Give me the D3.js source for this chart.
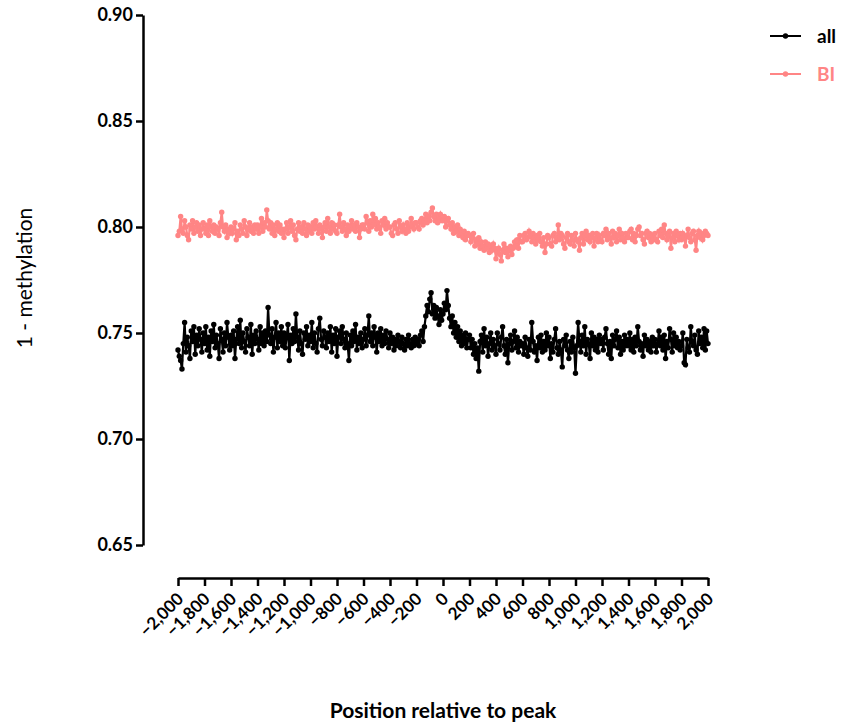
<!DOCTYPE html>
<html>
<head>
<meta charset="utf-8">
<script src="https://cdn.jsdelivr.net/npm/d3@7"></script>
<style>
  body { margin: 0; background: #fff; }
  svg text { font-family: Lato, "Open Sans", sans-serif; }
</style>
</head>
<body>
<svg id="chart" width="842" height="723"></svg>
<script>
var width = 842;
var height = 723;

// positions relative to peak, every 10 bp
var positions = d3.range(-2000, 2001, 10);
var xTicks = d3.range(-2000, 2001, 200);
var yTicks = [0.65, 0.70, 0.75, 0.80, 0.85, 0.90];

var seriesNames = ["all", "BI"];
var seriesColors = ["#000000", "#ff8585"];

var allValues = [
  0.742, 0.739, 0.737, 0.733, 0.745, 0.755, 0.741, 0.748, 0.744, 0.738, 0.751, 0.746, 0.753, 0.740, 0.749, 0.744, 0.752, 0.747, 0.741, 0.750,
  0.745, 0.753, 0.742, 0.748, 0.739, 0.751, 0.746, 0.754, 0.743, 0.749, 0.745, 0.738, 0.752, 0.747, 0.741, 0.750, 0.744, 0.755, 0.748, 0.742,
  0.749, 0.744, 0.751, 0.738, 0.747, 0.753, 0.745, 0.756, 0.743, 0.750, 0.746, 0.741, 0.752, 0.748, 0.744, 0.754, 0.740, 0.749, 0.745, 0.751,
  0.747, 0.742, 0.753, 0.745, 0.750, 0.744, 0.751, 0.746, 0.762, 0.749, 0.745, 0.752, 0.741, 0.748, 0.755, 0.743, 0.750, 0.746, 0.753, 0.744,
  0.750, 0.743, 0.748, 0.754, 0.737, 0.749, 0.745, 0.752, 0.746, 0.759, 0.748, 0.742, 0.751, 0.745, 0.740, 0.750, 0.747, 0.753, 0.744, 0.749,
  0.746, 0.755, 0.743, 0.750, 0.745, 0.741, 0.752, 0.757, 0.747, 0.744, 0.751, 0.748, 0.743, 0.750, 0.746, 0.753, 0.741, 0.749, 0.745, 0.752,
  0.739, 0.748, 0.751, 0.745, 0.753, 0.747, 0.743, 0.750, 0.745, 0.737, 0.749, 0.744, 0.751, 0.746, 0.754, 0.742, 0.748, 0.745, 0.750, 0.743,
  0.747, 0.752, 0.744, 0.749, 0.758, 0.746, 0.750, 0.744, 0.753, 0.748, 0.741, 0.750, 0.746, 0.752, 0.744, 0.749, 0.745, 0.751, 0.747, 0.743,
  0.750, 0.745, 0.748, 0.742, 0.747, 0.744, 0.749, 0.746, 0.743, 0.748, 0.745, 0.742, 0.747, 0.744, 0.749, 0.745, 0.743, 0.747, 0.744, 0.748,
  0.745, 0.747, 0.744, 0.749, 0.751, 0.746, 0.753, 0.758, 0.763, 0.760, 0.766, 0.769, 0.759, 0.763, 0.757, 0.762, 0.758, 0.754, 0.761, 0.756,
  0.759, 0.764, 0.761, 0.770, 0.763, 0.757, 0.753, 0.758, 0.750, 0.755, 0.748, 0.753, 0.746, 0.751, 0.744, 0.749, 0.745, 0.750, 0.743, 0.747,
  0.749, 0.743, 0.747, 0.740, 0.745, 0.738, 0.743, 0.732, 0.746, 0.749, 0.741, 0.752, 0.744, 0.748, 0.739, 0.745, 0.750, 0.742, 0.747, 0.744,
  0.740, 0.750, 0.745, 0.742, 0.748, 0.753, 0.744, 0.740, 0.747, 0.736, 0.745, 0.749, 0.742, 0.746, 0.751, 0.743, 0.748, 0.741, 0.746, 0.744,
  0.745, 0.740, 0.748, 0.743, 0.739, 0.747, 0.742, 0.755, 0.746, 0.741, 0.744, 0.737, 0.748, 0.743, 0.749, 0.741, 0.746, 0.742, 0.750, 0.744,
  0.748, 0.738, 0.745, 0.741, 0.747, 0.752, 0.743, 0.740, 0.746, 0.742, 0.734, 0.747, 0.744, 0.749, 0.742, 0.738, 0.746, 0.741, 0.748, 0.743,
  0.731, 0.744, 0.755, 0.746, 0.741, 0.749, 0.744, 0.753, 0.740, 0.747, 0.745, 0.738, 0.750, 0.744, 0.748, 0.742, 0.747, 0.741, 0.749, 0.745,
  0.747, 0.742, 0.748, 0.752, 0.745, 0.740, 0.746, 0.738, 0.749, 0.744, 0.747, 0.751, 0.743, 0.748, 0.740, 0.746, 0.742, 0.749, 0.744, 0.747,
  0.744, 0.750, 0.742, 0.747, 0.741, 0.748, 0.744, 0.753, 0.746, 0.742, 0.745, 0.739, 0.749, 0.744, 0.747, 0.742, 0.746, 0.741, 0.748, 0.744,
  0.747, 0.741, 0.745, 0.751, 0.744, 0.748, 0.742, 0.749, 0.738, 0.746, 0.743, 0.752, 0.747, 0.741, 0.750, 0.744, 0.748, 0.743, 0.746, 0.742,
  0.744, 0.750, 0.736, 0.735, 0.747, 0.743, 0.741, 0.753, 0.746, 0.744, 0.749, 0.742, 0.740, 0.751, 0.745, 0.748, 0.743, 0.752, 0.742, 0.751,
  0.745
];

var biValues = [
  0.796, 0.798, 0.805, 0.799, 0.797, 0.803, 0.800, 0.796, 0.794, 0.801, 0.799, 0.803, 0.797, 0.800, 0.802, 0.798, 0.801, 0.796, 0.799, 0.802,
  0.799, 0.797, 0.801, 0.796, 0.803, 0.800, 0.798, 0.801, 0.797, 0.800, 0.799, 0.796, 0.802, 0.807, 0.800, 0.798, 0.801, 0.795, 0.799, 0.797,
  0.800, 0.797, 0.799, 0.802, 0.794, 0.798, 0.796, 0.801, 0.799, 0.797, 0.803, 0.800, 0.796, 0.799, 0.802, 0.798, 0.800, 0.797, 0.801, 0.799,
  0.801, 0.797, 0.800, 0.804, 0.798, 0.802, 0.800, 0.808, 0.803, 0.799, 0.802, 0.797, 0.801, 0.796, 0.799, 0.802, 0.798, 0.801, 0.797, 0.799,
  0.795, 0.799, 0.802, 0.797, 0.800, 0.803, 0.798, 0.801, 0.796, 0.794, 0.799, 0.802, 0.798, 0.800, 0.797, 0.802, 0.799, 0.796, 0.801, 0.798,
  0.800, 0.797, 0.802, 0.799, 0.803, 0.800, 0.797, 0.801, 0.799, 0.795, 0.800, 0.802, 0.798, 0.804, 0.800, 0.797, 0.802, 0.799, 0.801, 0.798,
  0.797, 0.801, 0.806, 0.800, 0.798, 0.802, 0.799, 0.796, 0.801, 0.798, 0.800, 0.803, 0.799, 0.801, 0.798, 0.802, 0.800, 0.795, 0.799, 0.801,
  0.801, 0.799, 0.805, 0.802, 0.798, 0.803, 0.800, 0.806, 0.801, 0.804, 0.799, 0.802, 0.800, 0.797, 0.803, 0.801, 0.804, 0.799, 0.802, 0.800,
  0.800, 0.797, 0.796, 0.801, 0.802, 0.799, 0.797, 0.803, 0.800, 0.798, 0.801, 0.799, 0.797, 0.802, 0.798, 0.800, 0.804, 0.801, 0.799, 0.802,
  0.802, 0.800, 0.799, 0.803, 0.804, 0.801, 0.803, 0.806, 0.802, 0.805, 0.803, 0.807, 0.809, 0.805, 0.803, 0.806, 0.802, 0.804, 0.806, 0.803,
  0.803, 0.805, 0.800, 0.803, 0.804, 0.801, 0.799, 0.802, 0.797, 0.800, 0.798, 0.801, 0.796, 0.799, 0.797, 0.795, 0.798, 0.794, 0.796, 0.797,
  0.796, 0.793, 0.795, 0.797, 0.791, 0.794, 0.792, 0.795, 0.790, 0.793, 0.791, 0.789, 0.793, 0.790, 0.792, 0.788, 0.791, 0.789, 0.792, 0.790,
  0.785, 0.788, 0.790, 0.787, 0.784, 0.789, 0.792, 0.788, 0.790, 0.786, 0.789, 0.791, 0.787, 0.790, 0.793, 0.791, 0.794, 0.790, 0.796, 0.793,
  0.793, 0.796, 0.797, 0.794, 0.795, 0.798, 0.796, 0.793, 0.797, 0.795, 0.792, 0.796, 0.794, 0.797, 0.793, 0.791, 0.795, 0.788, 0.792, 0.796,
  0.795, 0.792, 0.791, 0.796, 0.797, 0.793, 0.795, 0.801, 0.794, 0.797, 0.796, 0.792, 0.790, 0.795, 0.797, 0.793, 0.792, 0.796, 0.794, 0.791,
  0.797, 0.794, 0.793, 0.789, 0.795, 0.797, 0.792, 0.796, 0.798, 0.794, 0.796, 0.793, 0.795, 0.797, 0.791, 0.795, 0.797, 0.793, 0.796, 0.794,
  0.793, 0.797, 0.796, 0.799, 0.794, 0.797, 0.795, 0.792, 0.798, 0.795, 0.797, 0.793, 0.796, 0.799, 0.794, 0.797, 0.795, 0.793, 0.797, 0.795,
  0.795, 0.798, 0.799, 0.794, 0.797, 0.793, 0.796, 0.799, 0.800, 0.796, 0.797, 0.794, 0.792, 0.797, 0.798, 0.795, 0.797, 0.793, 0.796, 0.794,
  0.797, 0.794, 0.793, 0.798, 0.796, 0.799, 0.795, 0.801, 0.797, 0.794, 0.796, 0.798, 0.790, 0.795, 0.797, 0.793, 0.798, 0.796, 0.794, 0.797,
  0.794, 0.797, 0.795, 0.791, 0.796, 0.799, 0.795, 0.793, 0.797, 0.798, 0.794, 0.789, 0.796, 0.798, 0.795, 0.797, 0.794, 0.796, 0.798, 0.797,
  0.796
];

var svg = d3.select("#chart");

var x = d3.scaleLinear().domain([-2000, 2000]).range([178, 708]);
var y = d3.scaleLinear().domain([0.65, 0.90]).range([545, 15]);

var fmt = d3.format(",");

// y axis
var yAxis = svg.append("g")
    .attr("transform", "translate(143,0)")
    .call(d3.axisLeft(y).tickValues(yTicks).tickFormat(d3.format(".2f")).tickSize(7).tickSizeOuter(0));
yAxis.select(".domain").attr("stroke-width", 2.5);
yAxis.selectAll(".tick line").attr("stroke-width", 2.5);
yAxis.selectAll(".tick text")
    .attr("x", -10)
    .style("font-size", "18px")
    .style("font-weight", "bold")
    .attr("fill", "#000");

// x axis
var xAxis = svg.append("g")
    .attr("transform", "translate(0,578)")
    .call(d3.axisBottom(x).tickValues(xTicks).tickFormat(fmt).tickSize(8).tickSizeOuter(0));
xAxis.select(".domain").attr("stroke-width", 2.5);
xAxis.selectAll(".tick line").attr("stroke-width", 2.5);
xAxis.selectAll(".tick text")
    .attr("y", 0)
    .attr("dy", 0)
    .attr("transform", "translate(6,22) rotate(-45)")
    .attr("text-anchor", "end")
    .style("font-size", "17px")
    .style("font-weight", "bold")
    .attr("fill", "#000");

// axis titles
svg.append("text")
    .attr("transform", "translate(32,278) rotate(-90)")
    .attr("text-anchor", "middle")
    .style("font-size", "21px")
    .text("1 - methylation");

svg.append("text")
    .attr("x", 443)
    .attr("y", 718)
    .attr("text-anchor", "middle")
    .style("font-size", "21px")
    .style("font-weight", "bold")
    .text("Position relative to peak");

// series
var series = [
  { name: seriesNames[0], color: seriesColors[0], values: allValues },
  { name: seriesNames[1], color: seriesColors[1], values: biValues }
];

var line = d3.line()
    .x(function (d, i) { return x(positions[i]); })
    .y(function (d) { return y(d); });

series.slice().reverse().forEach(function (s) {
  var g = svg.append("g");
  g.append("path")
      .datum(s.values)
      .attr("d", line)
      .attr("fill", "none")
      .attr("stroke", s.color)
      .attr("stroke-width", 2.2);
  g.selectAll("circle")
      .data(s.values)
      .enter()
      .append("circle")
      .attr("cx", function (d, i) { return x(positions[i]); })
      .attr("cy", function (d) { return y(d); })
      .attr("r", 2.7)
      .attr("fill", s.color);
});

// legend
var legend = svg.append("g");
series.forEach(function (s, i) {
  var ly = 36 + i * 38;
  legend.append("line")
      .attr("x1", 770).attr("x2", 801)
      .attr("y1", ly).attr("y2", ly)
      .attr("stroke", s.color)
      .attr("stroke-width", 2);
  legend.append("circle")
      .attr("cx", 785.5).attr("cy", ly)
      .attr("r", 2.7)
      .attr("fill", s.color);
  legend.append("text")
      .attr("x", 817)
      .attr("y", ly + 7)
      .style("font-size", "19px")
      .style("font-weight", "bold")
      .attr("fill", s.color)
      .text(s.name);
});
</script>
</body>
</html>
